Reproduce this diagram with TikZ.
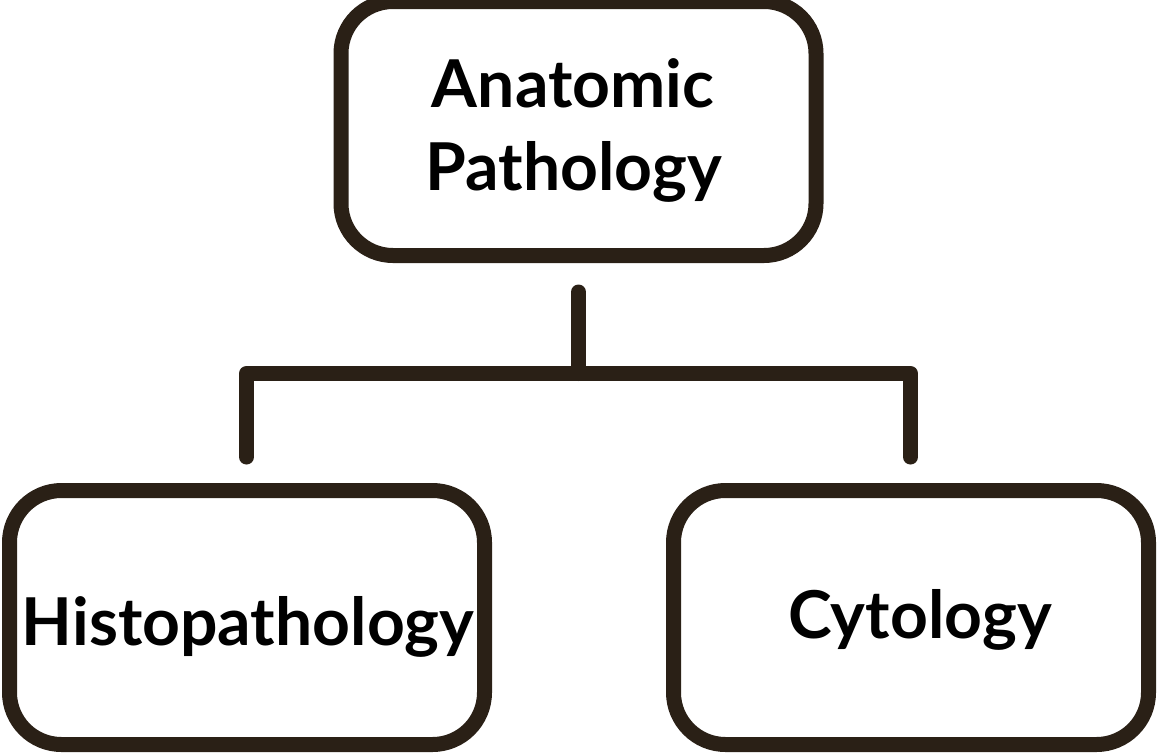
\documentclass[tikz,border=0pt]{standalone}
\usepackage{fontspec}
\setmainfont{Lato}
\definecolor{ink}{HTML}{2A2016}
\begin{document}
\begin{tikzpicture}[x=1pt,y=-1pt,
  box/.style={draw=ink, line width=15pt, rounded corners=52pt, minimum width=475pt, minimum height=254pt, inner sep=0pt, fill=white},
  lbl/.style={font=\fontsize{66}{72}\selectfont\bfseries, text=black, anchor=base, inner sep=0pt},
  link/.style={draw=ink, line width=15pt, line cap=round, line join=round}]
\useasboundingbox (0,0) rectangle (1161,753);
\node[box] (top) at (578.5,128.5) {};
\node[box] (hist) at (247,617.5) {};
\node[box] (cyto) at (911,617.5) {};
\node[lbl] (t1) at (573,107) {Anatomic};
\node[lbl] (t2) at (574,190) {Pathology};
\node[lbl] (t3) at (248,645) {Histopathology};
\node[lbl] (t4) at (920,638) {Cytology};
\coordinate (j0) at (578.5,292);
\coordinate (j) at (578.5,373.5);
\coordinate (hl) at (246.5,373.5);
\coordinate (hr) at (910.5,373.5);
\coordinate (jl) at (246.5,457);
\coordinate (jr) at (910.5,457);
\draw[link] (j0) -- (j);
\draw[link] (jl) -- (hl) -- (hr) -- (jr);
\end{tikzpicture}
\end{document}
